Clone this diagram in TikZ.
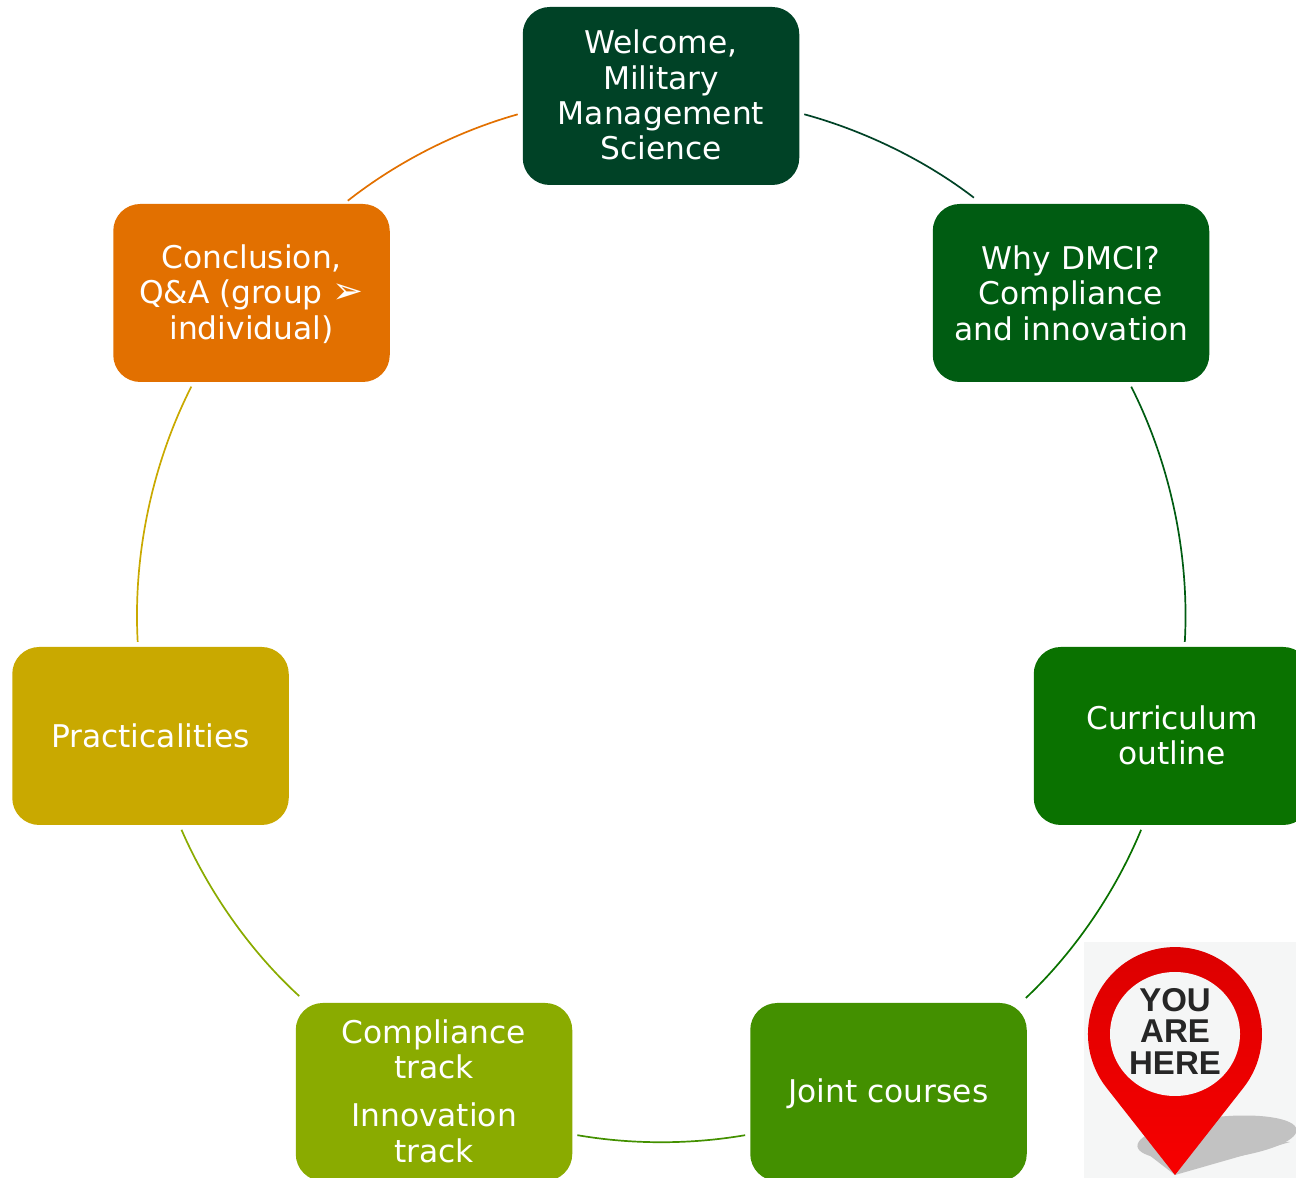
\documentclass[tikz,border=0pt]{standalone}
\usepackage{fontspec}
\setmainfont{DejaVu Sans}
\usetikzlibrary{positioning}

\definecolor{welcomegreen}{HTML}{004226}
\definecolor{whygreen}{HTML}{005C12}
\definecolor{curricgreen}{HTML}{0A7200}
\definecolor{jointgreen}{HTML}{439000}
\definecolor{trackgreen}{HTML}{8AAB00}
\definecolor{practgold}{HTML}{C9A900}
\definecolor{concorange}{HTML}{E27000}
\definecolor{pinpaper}{HTML}{F5F6F6}

\begin{document}
\begin{tikzpicture}[x=1pt,y=1pt,on grid,
    stagebox/.style={rounded corners=27pt,minimum width=276.5pt,minimum height=178pt,
        inner sep=0pt,align=center,text=white,text depth=2pt,font=\fontsize{31.3}{35.3}\selectfont},
    link/.style={line width=1.7pt,shorten >=5pt,shorten <=5pt,looseness=.87}]
        %\draw[help lines] (0,0) grid (1296,1178);
        \useasboundingbox (0,0) rectangle (1296,1178);

        \node[stagebox,fill=welcomegreen] (welcome) at (661,1082) {Welcome,\\Military\\Management\\Science};
        \node[stagebox,fill=whygreen,text depth=0pt] (why) [below right=197pt and 410pt of welcome] {Why DMCI?\\Compliance\\and innovation};
        \node[stagebox,fill=curricgreen]  (curric) [below right=443pt and 101pt of why] {Curriculum\\outline};
        \node[stagebox,fill=jointgreen]   (joint) [below left=356pt and 283.5pt of curric] {Joint courses};
        \node[stagebox,fill=trackgreen]   (tracks) [left=454.5pt of joint] {Compliance\\track\\[12.7pt]Innovation\\track};
        \node[stagebox,fill=practgold,text depth=0pt] (pract) [above left=356pt and 283.5pt of tracks] {Practicalities};
        \node[stagebox,fill=concorange]   (conc) [above right=443pt and 101pt of pract] {Conclusion,\\Q\&A (group {\fontsize{37}{35.3}\selectfont ➢}\\individual)};

        \path (welcome.-7.2) edge[link,shorten >=10pt,bend left=11.2,welcomegreen] (why.135.3)
        (why.-57.2) edge[link,bend left=15,whygreen] (curric.82.2)
        (curric.-108.2) edge[link,shorten >=7pt,bend left=12,curricgreen] (joint.34.6)
        (joint.197.4) edge[link,bend left=9.8,jointgreen] (tracks.-17.5)
        (tracks.145.5) edge[link,shorten <=10pt,bend left=12,trackgreen] (pract.-72.1)
        (pract.98.2) edge[link,bend left=15,practgold] (conc.-123)
        (conc.44.8) edge[link,bend left=11.2,concorange] (welcome.187.2);

        \fill[pinpaper] (1084,0) rectangle (1296,236);
        \fill[black!24] (1175,3) -- (1290,36) -- (1217,38) -- (1140,30) -- cycle;
        \fill[black!24,rotate around={6:(1217,40)}] (1217,40) ellipse (80pt and 21pt);
        \shade[top color=red!86!black,bottom color=red!97!black] (1175,3) -- (1243.7,90.6)
            arc[start angle=-37.8,end angle=217.8,radius=87pt] -- cycle;
        \fill[pinpaper] (1175,144) ellipse (65pt and 62pt);
        \node[align=center,inner sep=0pt,text=black!85,font=\fontsize{33}{31.5}\fontspec{Liberation Sans}\bfseries\selectfont] (pinlabel) at (1175,147) {YOU\\ARE\\HERE};
    \end{tikzpicture}
\end{document}
